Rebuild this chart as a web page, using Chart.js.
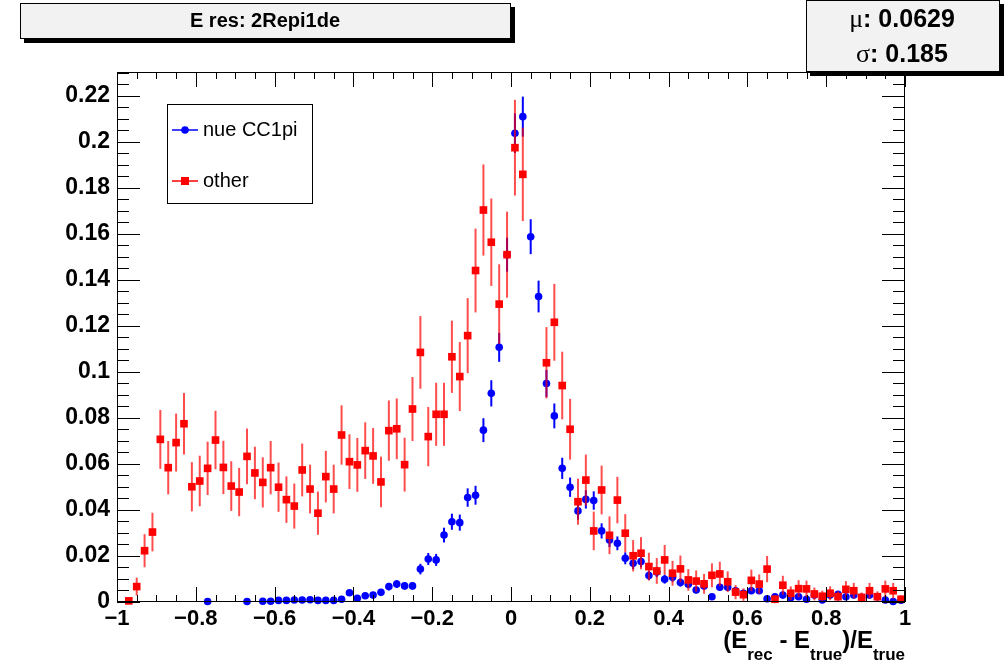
<!DOCTYPE html>
<html>
<head>
<meta charset="utf-8">
<script src="https://cdn.jsdelivr.net/npm/chart.js@4"></script>
<style>
  body { margin: 0; background: #fff; }
  canvas { display: block; }
</style>
</head>
<body>
<canvas id="chart" width="1008" height="663"></canvas>
<script>
// 100 bins of width 0.02 between -1 and 1
const binCenters = Array.from({ length: 100 }, (_, i) => Math.round((-0.99 + 0.02 * i) * 100) / 100);

const nueCC1pi = [
  null, null, null, null, null, null, null, null, null, null,
  null, 0.0002, null, null, null, null, 0.0002, null, 0.0003, 0.0003,
  0.0007, 0.0007, 0.0009, 0.0009, 0.0010, 0.0007, 0.0007, 0.0007, 0.0012, 0.0040,
  0.0016, 0.0027, 0.0030, 0.0042, 0.0067, 0.0078, 0.0070, 0.0070, 0.0143, 0.0187,
  0.0183, 0.0291, 0.0349, 0.0345, 0.0454, 0.0464, 0.0747, 0.0907, 0.1107, 0.1510,
  0.2038, 0.2110, 0.1588, 0.1328, 0.0950, 0.0809, 0.0581, 0.0499, 0.0396, 0.0446,
  0.0441, 0.0309, 0.0270, 0.0255, 0.0190, 0.0168, 0.0176, 0.0115, 0.0130, 0.0099,
  0.0108, 0.0085, 0.0077, 0.0052, 0.0070, 0.0023, 0.0064, 0.0064, 0.0049, 0.0038,
  0.0049, 0.0049, 0.0014, 0.0023, 0.0030, 0.0019, 0.0023, 0.0012, 0.0030, 0.0009,
  0.0030, 0.0033, 0.0023, 0.0030, 0.0020, 0.0030, 0.0023, 0.0009, 0.0002, 0.0008
];
const nueCC1piErr = [
  0, 0, 0, 0, 0, 0, 0, 0, 0, 0,
  0, 0.0003, 0, 0, 0, 0, 0.0003, 0, 0.0003, 0.0003,
  0.0005, 0.0005, 0.0006, 0.0006, 0.0006, 0.0005, 0.0005, 0.0005, 0.0007, 0.0012,
  0.0008, 0.0010, 0.0010, 0.0012, 0.0016, 0.0017, 0.0016, 0.0016, 0.0023, 0.0026,
  0.0026, 0.0032, 0.0035, 0.0035, 0.0040, 0.0041, 0.0052, 0.0057, 0.0063, 0.0074,
  0.0086, 0.0087, 0.0076, 0.0069, 0.0059, 0.0054, 0.0046, 0.0042, 0.0038, 0.0040,
  0.0040, 0.0033, 0.0031, 0.0030, 0.0026, 0.0025, 0.0025, 0.0020, 0.0022, 0.0019,
  0.0020, 0.0018, 0.0017, 0.0014, 0.0016, 0.0009, 0.0015, 0.0015, 0.0013, 0.0012,
  0.0013, 0.0013, 0.0007, 0.0009, 0.0010, 0.0008, 0.0009, 0.0007, 0.0010, 0.0006,
  0.0010, 0.0011, 0.0009, 0.0010, 0.0008, 0.0010, 0.0009, 0.0006, 0.0003, 0.0005
];

const other = [
  null, 0.0005, 0.0067, 0.0223, 0.0304, 0.0707, 0.0584, 0.0693, 0.0775, 0.0501,
  0.0526, 0.0581, 0.0704, 0.0585, 0.0504, 0.0478, 0.0633, 0.0561, 0.0520, 0.0584,
  0.0499, 0.0445, 0.0417, 0.0574, 0.0491, 0.0386, 0.0545, 0.0491, 0.0726, 0.0610,
  0.0596, 0.0658, 0.0635, 0.0522, 0.0745, 0.0753, 0.0597, 0.0839, 0.1085, 0.0719,
  0.0816, 0.0816, 0.1066, 0.0980, 0.1158, 0.1441, 0.1704, 0.1564, 0.1295, 0.1510,
  0.1975, 0.1859, null, null, 0.1040, 0.1216, 0.0941, 0.0751, 0.0436, 0.0530,
  0.0309, 0.0487, 0.0290, 0.0443, 0.0299, 0.0201, 0.0212, 0.0154, 0.0135, 0.0183,
  0.0125, 0.0144, 0.0096, 0.0091, 0.0079, 0.0116, 0.0122, 0.0088, 0.0043, 0.0032,
  0.0094, 0.0078, 0.0143, 0.0012, 0.0073, 0.0038, 0.0058, 0.0057, 0.0035, 0.0025,
  0.0038, 0.0023, 0.0055, 0.0049, 0.0020, 0.0049, 0.0023, 0.0057, 0.0049, 0.0012
];
const otherErr = [
  0, 0.0011, 0.0039, 0.0072, 0.0084, 0.0128, 0.0116, 0.0126, 0.0134, 0.0107,
  0.0110, 0.0116, 0.0127, 0.0116, 0.0108, 0.0105, 0.0121, 0.0114, 0.0109, 0.0116,
  0.0107, 0.0101, 0.0098, 0.0115, 0.0106, 0.0094, 0.0112, 0.0106, 0.0129, 0.0119,
  0.0117, 0.0123, 0.0121, 0.0110, 0.0131, 0.0132, 0.0117, 0.0139, 0.0158, 0.0129,
  0.0137, 0.0137, 0.0157, 0.0150, 0.0163, 0.0182, 0.0198, 0.0190, 0.0173, 0.0187,
  0.0208, 0.0203, 0, 0, 0.0155, 0.0167, 0.0147, 0.0132, 0.0100, 0.0111,
  0.0084, 0.0106, 0.0082, 0.0101, 0.0083, 0.0068, 0.0070, 0.0060, 0.0056, 0.0065,
  0.0054, 0.0058, 0.0047, 0.0046, 0.0043, 0.0052, 0.0053, 0.0045, 0.0031, 0.0027,
  0.0047, 0.0042, 0.0057, 0.0017, 0.0041, 0.0030, 0.0037, 0.0036, 0.0028, 0.0024,
  0.0030, 0.0023, 0.0036, 0.0034, 0.0021, 0.0034, 0.0023, 0.0036, 0.0034, 0.0017
];

const xTicks = [-1, -0.8, -0.6, -0.4, -0.2, 0, 0.2, 0.4, 0.6, 0.8, 1];
const xTickLabels = ["\u22121", "\u22120.8", "\u22120.6", "\u22120.4", "\u22120.2", "0", "0.2", "0.4", "0.6", "0.8", "1"];
const yTicks = [0, 0.02, 0.04, 0.06, 0.08, 0.1, 0.12, 0.14, 0.16, 0.18, 0.2, 0.22];
const yTickLabels = ["0", "0.02", "0.04", "0.06", "0.08", "0.1", "0.12", "0.14", "0.16", "0.18", "0.2", "0.22"];

const titleText = "E res: 2Repi1de";
const statsLines = [["\u03bc", ": 0.0629"], ["\u03c3", ": 0.185"]];

const SANS = '"Liberation Sans", Arial, Helvetica, sans-serif';
const SERIF = '"Liberation Serif", "Times New Roman", serif';

function points(values) {
  return binCenters.map((x, i) => ({ x: x, y: values[i] }));
}

// vertical error bars, drawn just under each dataset's markers
const errorBars = {
  id: "errorBars",
  beforeDatasetDraw(chart, args) {
    const ds = chart.data.datasets[args.index];
    const y = chart.scales.y;
    const ctx = chart.ctx;
    ctx.save();
    ctx.strokeStyle = ds.errColor;
    ctx.lineWidth = 2;
    args.meta.data.forEach((pt, i) => {
      const v = ds.data[i].y;
      if (v == null) return;
      const e = ds.errors[i];
      ctx.beginPath();
      ctx.moveTo(pt.x, y.getPixelForValue(v - e));
      ctx.lineTo(pt.x, y.getPixelForValue(v + e));
      ctx.stroke();
    });
    ctx.restore();
  }
};

// ROOT style frame, inner ticks, title box, stats box, legend and axis title
const rootStyle = {
  id: "rootStyle",
  afterDraw(chart) {
    const ctx = chart.ctx;
    const a = chart.chartArea;
    const xs = chart.scales.x, ys = chart.scales.y;
    ctx.save();
    ctx.strokeStyle = "#000";
    ctx.lineWidth = 1;
    ctx.strokeRect(a.left + 0.5, a.top + 0.5, a.right - a.left - 1, a.bottom - a.top - 1);

    ctx.beginPath();
    for (let k = 0; k <= 40; k++) {
      const v = -1 + k * 0.05;
      const px = Math.round(xs.getPixelForValue(v)) + 0.5;
      const len = k % 4 === 0 ? 15 : 7;
      ctx.moveTo(px, a.bottom); ctx.lineTo(px, a.bottom - len);
      ctx.moveTo(px, a.top); ctx.lineTo(px, a.top + len);
    }
    for (let k = 0; k * 0.005 <= ys.max + 1e-9; k++) {
      const py = Math.round(ys.getPixelForValue(k * 0.005)) + 0.5;
      const len = k % 4 === 0 ? 23 : 12;
      ctx.moveTo(a.left, py); ctx.lineTo(a.left + len, py);
      ctx.moveTo(a.right, py); ctx.lineTo(a.right - len, py);
    }
    ctx.stroke();

    // boxes with shadow
    function box(x, y, w, h) {
      ctx.fillStyle = "#000";
      ctx.fillRect(x + 4, y + 4, w, h);
      ctx.fillStyle = "#f2f2f2";
      ctx.fillRect(x, y, w, h);
      ctx.strokeRect(x + 0.5, y + 0.5, w - 1, h - 1);
      ctx.fillStyle = "#000";
    }
    box(20, 3, 491, 36);
    ctx.textAlign = "center";
    ctx.textBaseline = "middle";
    ctx.font = "bold 20px " + SANS;
    ctx.fillText(titleText, 265, 21);

    box(806, 0, 194, 72);
    statsLines.forEach((ln, i) => {
      const cy = 20 + i * 35;
      ctx.font = "26px " + SERIF;
      const w1 = ctx.measureText(ln[0]).width;
      ctx.font = "bold 25px " + SANS;
      const w2 = ctx.measureText(ln[1]).width;
      const x0 = 902 - (w1 + w2) / 2;
      ctx.textAlign = "left";
      ctx.font = "26px " + SERIF;
      ctx.fillText(ln[0], x0, cy);
      ctx.font = "bold 25px " + SANS;
      ctx.fillText(ln[1], x0 + w1, cy);
    });

    // legend
    ctx.fillStyle = "#fff";
    ctx.fillRect(167, 104, 146, 100);
    ctx.strokeRect(167.5, 104.5, 145, 99);
    const rows = [130, 181];
    chart.data.datasets.forEach(ds => {
      const cy = rows[ds.legendRow];
      ctx.strokeStyle = ds.borderColor;
      ctx.lineWidth = 1.5;
      ctx.beginPath();
      ctx.moveTo(172, cy); ctx.lineTo(198, cy);
      ctx.stroke();
      ctx.fillStyle = ds.pointBackgroundColor;
      if (ds.pointStyle === "rect") {
        ctx.fillRect(181, cy - 4, 8, 8);
      } else {
        ctx.beginPath();
        ctx.arc(185, cy, 3.8, 0, Math.PI * 2);
        ctx.fill();
      }
      ctx.fillStyle = "#000";
      ctx.font = "20px " + SANS;
      ctx.textAlign = "left";
      ctx.fillText(ds.label, 203, cy);
    });

    // x axis title with subscripts
    const parts = [["(E", 0], ["rec", 1], [" - E", 0], ["true", 1], [")/E", 0], ["true", 1]];
    const fMain = "bold 24px " + SANS, fSub = "bold 17px " + SANS;
    let total = 0;
    parts.forEach(p => { ctx.font = p[1] ? fSub : fMain; total += ctx.measureText(p[0]).width; });
    let x = a.right - total;
    ctx.textBaseline = "alphabetic";
    ctx.fillStyle = "#000";
    parts.forEach(p => {
      ctx.font = p[1] ? fSub : fMain;
      ctx.fillText(p[0], x, p[1] ? 660 : 648);
      x += ctx.measureText(p[0]).width;
    });
    ctx.restore();
  }
};

new Chart(document.getElementById("chart").getContext("2d"), {
  type: "scatter",
  data: {
    datasets: [
      {
        label: "nue CC1pi",
        data: points(nueCC1pi),
        errors: nueCC1piErr,
        errColor: "#0000ff",
        legendRow: 0,
        pointStyle: "circle",
        pointRadius: 3.8,
        pointBorderWidth: 0,
        pointBackgroundColor: "#0000ff",
        borderColor: "#0000ff",
        clip: false,
        order: 1
      },
      {
        label: "other",
        data: points(other),
        errors: otherErr,
        errColor: "rgba(255,0,0,0.7)",
        legendRow: 1,
        pointStyle: "rect",
        pointRadius: 5.4,
        pointBorderWidth: 0,
        pointBackgroundColor: "#ff0000",
        borderColor: "#ff0000",
        clip: false,
        order: 0
      }
    ]
  },
  options: {
    responsive: false,
    animation: false,
    devicePixelRatio: 1,
    events: [],
    layout: { padding: { top: 72, right: 103, left: 0, bottom: 0 } },
    plugins: {
      legend: { display: false },
      tooltip: { enabled: false },
      title: { display: false }
    },
    scales: {
      x: {
        type: "linear",
        min: -1,
        max: 1,
        grid: { display: false, drawTicks: false },
        border: { display: false },
        ticks: {
          color: "#000",
          font: { family: SANS, size: 22, weight: "bold" },
          padding: 4,
          maxRotation: 0,
          autoSkip: false,
          callback: (v, i) => xTickLabels[i]
        },
        afterBuildTicks: s => { s.ticks = xTicks.map(v => ({ value: v })); },
        afterFit: s => { s.height = 61; }
      },
      y: {
        type: "linear",
        min: 0,
        max: 0.2304,
        grid: { display: false, drawTicks: false },
        border: { display: false },
        ticks: {
          color: "#000",
          font: { family: SANS, size: 23, weight: "bold" },
          padding: 7,
          autoSkip: false,
          callback: (v, i) => yTickLabels[i]
        },
        afterBuildTicks: s => { s.ticks = yTicks.map(v => ({ value: v })); },
        afterFit: s => { s.width = 117; }
      }
    }
  },
  plugins: [errorBars, rootStyle]
});
</script>
</body>
</html>
